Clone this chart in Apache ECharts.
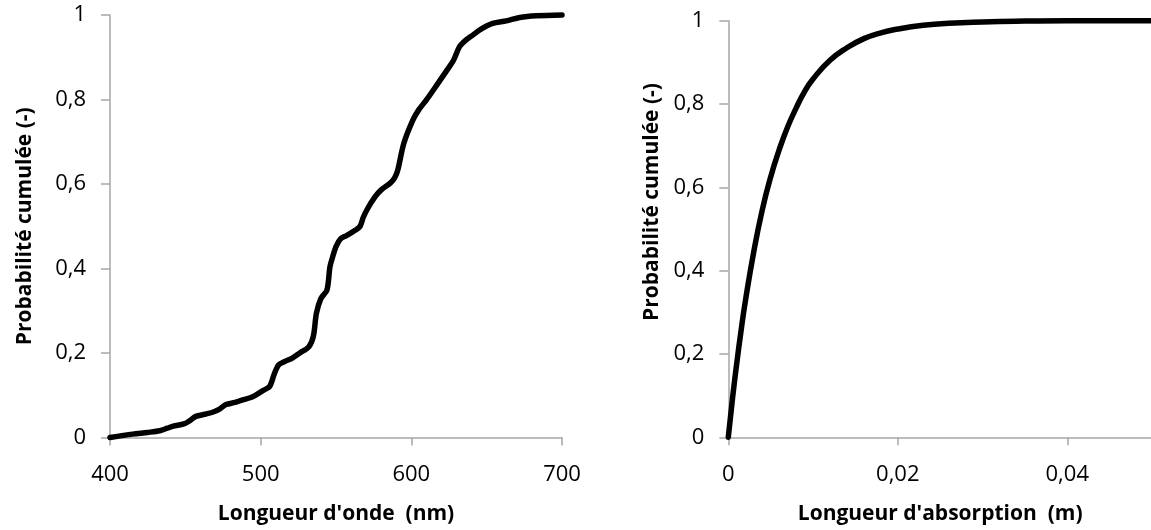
<!DOCTYPE html>
<html>
<head>
<meta charset="utf-8">
<script src="https://cdn.jsdelivr.net/npm/echarts@6/dist/echarts.min.js"></script>
<style>
html,body{margin:0;padding:0;background:#fff;}
#c{width:1151px;height:530px;}
</style>
</head>
<body>
<div id="c"></div>
<script>
// Left chart: wavelength CDF
var wavelength = [400,415,425,433,438,442,449,453,457,463,469,473,477,483,488,493,497,502,506,509,512,516,521,526,532,535,537,540,544,546,548,550,553,557,563,566,568,571,576,580,586,589,591,595,601,605,610,618,623,628,632,636,641,646,654,663,672,683,700];
var cdfWave = [0,0.008,0.012,0.016,0.022,0.027,0.032,0.040,0.050,0.055,0.061,0.068,0.078,0.083,0.089,0.094,0.101,0.112,0.121,0.150,0.172,0.180,0.188,0.200,0.215,0.240,0.294,0.329,0.349,0.404,0.430,0.452,0.470,0.478,0.491,0.500,0.520,0.542,0.570,0.586,0.602,0.615,0.633,0.696,0.751,0.776,0.799,0.840,0.866,0.893,0.925,0.940,0.953,0.966,0.980,0.986,0.994,0.998,1.0];
// Right chart: absorption length CDF
var absLength = [0,0.0005,0.001,0.0015,0.002,0.003,0.004,0.005,0.006,0.007,0.008,0.009,0.010,0.012,0.014,0.016,0.018,0.020,0.023,0.026,0.030,0.035,0.040,0.045,0.050];
var cdfAbs = [0,0.094,0.178,0.255,0.325,0.445,0.545,0.625,0.690,0.745,0.790,0.830,0.860,0.905,0.935,0.957,0.971,0.980,0.989,0.994,0.997,0.999,1.0,1.0,1.0];

var xTitleLeft = "Longueur d'onde  (nm)";
var xTitleRight = "Longueur d'absorption  (m)";
var yTitle = "Probabilité cumulée (-)";

function pairs(xs, ys){ return xs.map(function(x,i){ return [x, ys[i]]; }); }
function comma(v){ return String(v).replace('.', ','); }

var FONT = '"Open Sans", "Liberation Sans", sans-serif';
var axisGray = '#a6a6a6';
var lineStyle = { color: axisGray, width: 1.5 };

function xAx(gi, min, max, interval, name, showMax){
  return {
    type: 'value', gridIndex: gi, min: min, max: max, interval: interval,
    name: name, nameLocation: 'middle', nameGap: 66,
    nameTextStyle: { fontFamily: FONT, fontSize: 21, fontWeight: 'bold', color: '#000' },
    axisLine: { show: true, lineStyle: lineStyle },
    axisTick: { show: true, length: 8, lineStyle: lineStyle },
    splitLine: { show: false },
    axisLabel: { margin: 26, fontFamily: FONT, fontSize: 22, color: '#000', formatter: comma, showMaxLabel: showMax }
  };
}
function yAx(gi, nameGap, pad){
  return {
    type: 'value', gridIndex: gi, min: 0, max: 1, interval: 0.2,
    name: yTitle, nameLocation: 'middle', nameGap: nameGap,
    nameTextStyle: { fontFamily: FONT, fontSize: 21, fontWeight: 'bold', color: '#000', padding: pad },
    axisLine: { show: true, lineStyle: lineStyle },
    axisTick: { show: true, length: 9, lineStyle: lineStyle },
    splitLine: { show: false },
    axisLabel: { margin: 24, fontFamily: FONT, fontSize: 22, color: '#000', formatter: comma }
  };
}

var chart = echarts.init(document.getElementById('c'), null, { renderer: 'canvas' });
chart.setOption({
  animation: false,
  backgroundColor: '#fff',
  grid: [
    { left: 110, top: 15, width: 452, height: 422.5, containLabel: false, outerBoundsMode: 'none' },
    { left: 728.3, top: 20.7, width: 423.7, height: 416.6, containLabel: false, outerBoundsMode: 'none' }
  ],
  xAxis: [
    xAx(0, 400, 700, 100, xTitleLeft, true),
    xAx(1, 0, 0.05, 0.02, xTitleRight, false)
  ],
  yAxis: [
    yAx(0, 74, [0,0,0,0]),
    yAx(1, 66, [0,0,0,54])
  ],
  series: [
    { type: 'line', xAxisIndex: 0, yAxisIndex: 0, data: pairs(wavelength, cdfWave),
      showSymbol: false, smooth: 0.3, lineStyle: { color: '#000', width: 5.5, cap: 'round', join: 'round' }, clip: false },
    { type: 'line', xAxisIndex: 1, yAxisIndex: 1, data: pairs(absLength, cdfAbs),
      showSymbol: false, smooth: 0.5, lineStyle: { color: '#000', width: 5.5, cap: 'round', join: 'round' }, clip: false }
  ]
});
</script>
</body>
</html>
